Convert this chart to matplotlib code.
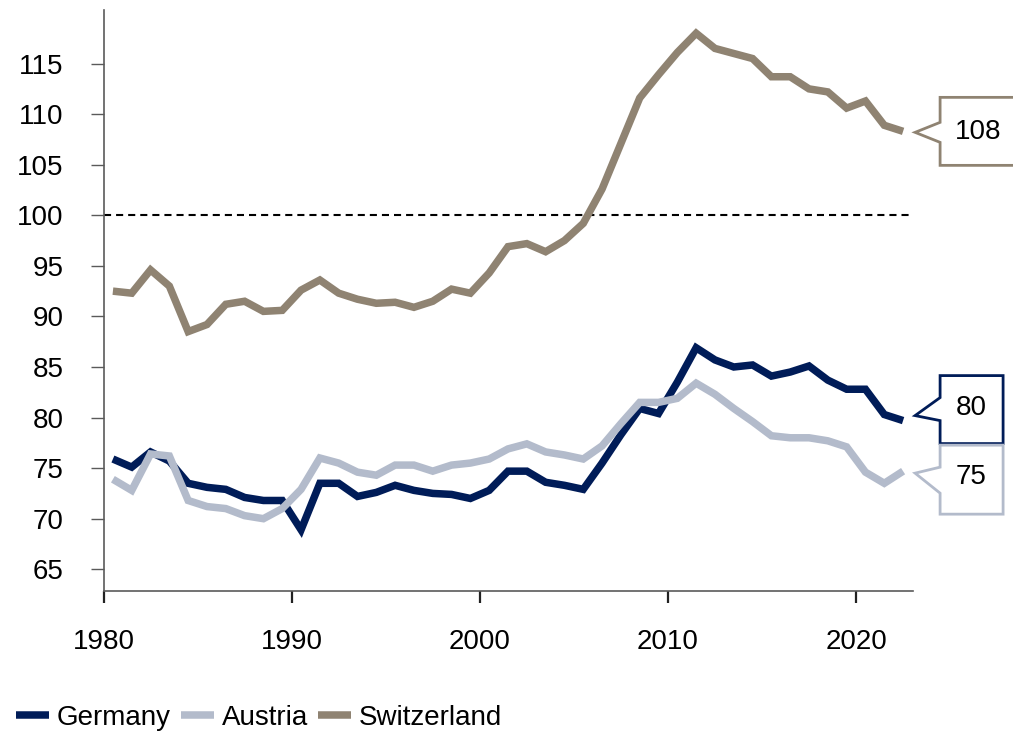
import matplotlib
matplotlib.use("Agg")
import matplotlib.pyplot as plt
import matplotlib.transforms as mtransforms
from matplotlib.patches import Polygon

plt.rcParams['font.family'] = ['Liberation Sans', 'DejaVu Sans']

# annual values, plotted at mid-year
years = list(range(1980, 2023))
germany = [75.9, 75.1, 76.6, 75.7, 73.5, 73.1, 72.9, 72.1, 71.8, 71.8,
           68.9, 73.5, 73.5, 72.2, 72.6, 73.3, 72.8, 72.5, 72.4, 72.0,
           72.8, 74.7, 74.7, 73.6, 73.3, 72.9, 75.5, 78.3, 80.9, 80.4,
           83.5, 86.9, 85.7, 85.0, 85.2, 84.1, 84.5, 85.1, 83.7, 82.8,
           82.8, 80.3, 79.7]
austria = [73.9, 72.8, 76.4, 76.2, 71.8, 71.2, 71.0, 70.3, 70.0, 71.0,
           72.9, 76.0, 75.5, 74.6, 74.3, 75.3, 75.3, 74.7, 75.3, 75.5,
           75.9, 76.9, 77.4, 76.6, 76.3, 75.9, 77.2, 79.4, 81.5, 81.5,
           81.9, 83.4, 82.3, 80.9, 79.6, 78.2, 78.0, 78.0, 77.7, 77.1,
           74.6, 73.5, 74.7]
switzerland = [92.5, 92.3, 94.6, 93.0, 88.5, 89.2, 91.2, 91.5, 90.5, 90.6,
               92.6, 93.6, 92.3, 91.7, 91.3, 91.4, 90.9, 91.5, 92.7, 92.3,
               94.3, 96.9, 97.2, 96.4, 97.5, 99.2, 102.6, 107.1, 111.6, 113.9,
               116.1, 118.0, 116.5, 116.0, 115.5, 113.7, 113.7, 112.5, 112.2, 110.6,
               111.3, 108.9, 108.3]
end_labels = ["80", "75", "108"]
names = ["Germany", "Austria", "Switzerland"]
colors = ["#001C58", "#B3BBCB", "#8F8372"]
y_ticks = list(range(65, 120, 5))
x_ticks = [1980, 1990, 2000, 2010, 2020]

fig = plt.figure(figsize=(10.13, 7.34), dpi=100)
ax = fig.add_axes([103.5 / 1013, 143 / 734, 809 / 1013, 581 / 734])

xs = [y + 0.5 for y in years]
series = [germany, austria, switzerland]
for vals, name, col in zip(series, names, colors):
    ax.plot(xs, vals, color=col, lw=5.4, label=name, solid_joinstyle='miter',
            solid_capstyle='butt')

ax.axhline(100, color='black', lw=1.5, dashes=(3.4, 2.4), zorder=1)

ax.set_xlim(1980, 2023)
ax.set_ylim(62.85, 120.3)
ax.set_yticks(y_ticks)
ax.set_xticks(x_ticks)
for s in ['top', 'right']:
    ax.spines[s].set_visible(False)
for s in ['left', 'bottom']:
    ax.spines[s].set_color('#5a5a5a')
    ax.spines[s].set_linewidth(1.2)
ax.tick_params(axis='y', length=9.4, width=1.0, color='#5a5a5a', pad=19.5,
               labelsize=20)
ax.tick_params(axis='x', length=8.6, width=1.6, color='#222222', pad=18.5,
               labelsize=20)

# callout boxes at the end of each line (offsets in pixels, y downward)
callouts = {
    "80": dict(tip=(12, -5), nu=-23, nl=0, top=-45, bot=23, right=100, text=(68, -13)),
    "75": dict(tip=(12, 2), nu=-4, nl=22, top=-26, bot=43, right=100, text=(68, 6)),
    "108": dict(tip=(12, 1), nu=-9, nl=11, top=-34, bot=34, right=113, text=(75, 1)),
}
px = mtransforms.Affine2D().scale(1 / 100.0) + fig.dpi_scale_trans
for vals, lab, col in zip(series, end_labels, colors):
    c = callouts[lab]
    trans = px + mtransforms.ScaledTranslation(xs[-1], vals[-1], ax.transData)
    bx = 37
    verts = [c['tip'], (bx, c['nu']), (bx, c['top']), (c['right'], c['top']),
             (c['right'], c['bot']), (bx, c['bot']), (bx, c['nl'])]
    verts = [(x, -y) for x, y in verts]
    ax.add_patch(Polygon(verts, closed=True, facecolor='white', edgecolor=col,
                         lw=2, transform=trans, clip_on=False, zorder=5))
    ax.text(c['text'][0], -c['text'][1], lab, transform=trans, ha='center',
            va='center', fontsize=20, color='black', zorder=6, clip_on=False)

leg = fig.legend(loc='center left', bbox_to_anchor=(16 / 1013, 1 - 718 / 734),
                 ncol=3, frameon=False, fontsize=20, handlelength=1.18,
                 handletextpad=0.3, columnspacing=0.35, borderpad=0,
                 borderaxespad=0)
for h in leg.get_lines():
    h.set_linewidth(5.4)

fig.savefig("out.png", dpi=100)
